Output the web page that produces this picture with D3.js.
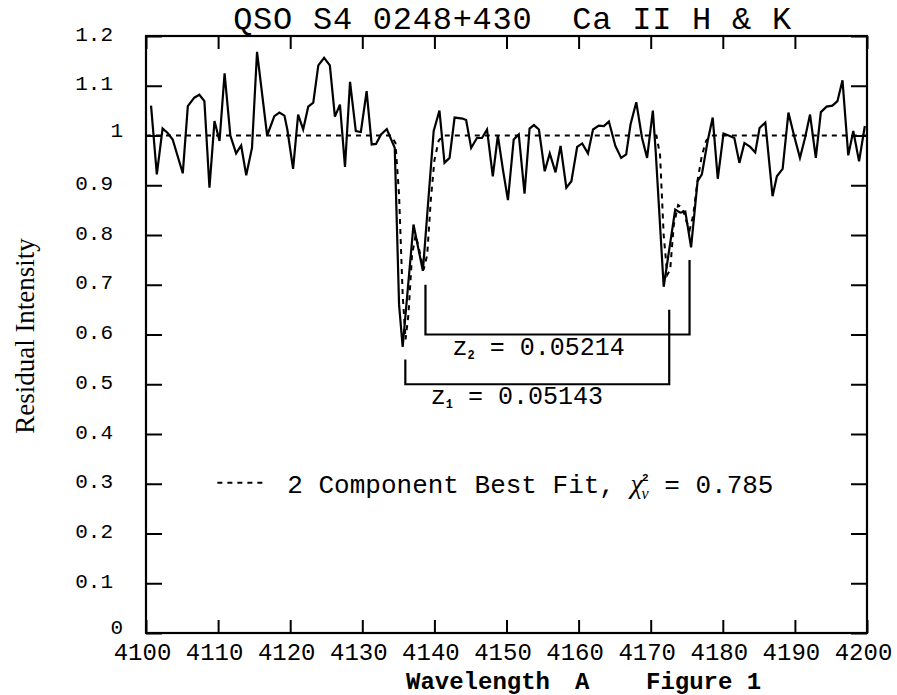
<!DOCTYPE html>
<html><head><meta charset="utf-8">
<script src="https://cdn.jsdelivr.net/npm/d3@7"></script>
<style>
html,body{margin:0;padding:0;background:#fff;}
svg{display:block;}
</style></head>
<body>
<svg id="chart" width="897" height="695"></svg>
<script>
// ---- data ----
const specWave = [4100.7,4101.5,4102.3,4103.0,4103.7,4105.1,4105.8,4106.7,4107.4,4108.1,4108.8,4109.5,4110.2,4110.9,4111.7,4112.5,4113.2,4113.9,4114.7,4115.4,4116.8,4117.8,4118.5,4119.2,4119.6,4120.4,4121.1,4121.8,4122.5,4123.2,4123.9,4124.7,4125.5,4126.2,4126.9,4127.6,4128.3,4129.1,4129.8,4130.6,4131.3,4131.9,4132.6,4133.4,4133.8,4134.5,4135.1,4135.6,4137.1,4138.4,4139.9,4140.7,4141.4,4142.1,4142.8,4143.9,4144.4,4145.1,4145.9,4146.6,4147.3,4148.1,4148.8,4149.5,4150.2,4151.0,4151.7,4152.5,4153.2,4153.8,4154.5,4155.3,4156.0,4156.8,4157.5,4158.3,4159.0,4159.8,4160.5,4161.3,4162.0,4162.8,4163.5,4164.2,4165.1,4165.9,4166.6,4167.2,4168.0,4168.8,4169.5,4170.3,4170.7,4171.8,4173.4,4174.1,4174.8,4175.6,4176.5,4177.1,4177.9,4178.6,4179.3,4180.1,4180.8,4181.6,4182.3,4183.0,4183.8,4184.5,4185.1,4185.9,4186.9,4187.5,4188.3,4189.1,4189.9,4190.7,4191.4,4192.1,4192.9,4193.6,4194.4,4195.2,4195.9,4196.6,4197.4,4198.1,4198.9,4199.7];
const specFlux = [1.060,0.922,1.014,1.005,0.992,0.924,1.059,1.076,1.082,1.069,0.895,1.029,0.989,1.125,1.000,0.964,0.980,0.920,0.975,1.168,1.000,1.039,1.046,1.040,1.012,0.933,1.042,1.012,1.058,1.066,1.141,1.156,1.141,1.038,1.062,0.937,1.108,1.009,1.007,1.089,0.982,0.983,1.002,1.013,0.999,0.975,0.660,0.575,0.821,0.728,1.009,1.050,0.945,0.955,1.036,1.034,1.031,0.975,0.995,0.995,1.012,0.918,1.000,0.932,0.870,0.992,1.002,0.883,1.014,1.021,1.012,0.928,0.964,0.926,0.979,0.895,0.908,0.977,0.984,0.964,1.012,1.020,1.019,1.028,0.979,0.955,0.962,1.022,1.067,0.995,0.955,1.050,0.966,0.696,0.851,0.845,0.847,0.775,0.908,0.922,0.989,1.036,0.913,1.004,1.000,0.995,0.945,0.985,0.977,0.966,1.015,1.026,0.878,0.918,0.933,1.046,0.999,0.955,0.995,1.042,0.955,1.047,1.058,1.060,1.069,1.111,0.960,1.009,0.948,1.019];

const fitWave = [4100,4134.0,4134.6,4135.1,4135.6,4136.0,4136.4,4136.9,4137.4,4137.9,4138.5,4139.0,4139.5,4140.0,4140.6,4141.3,4170.8,4171.3,4171.8,4172.3,4172.7,4173.2,4173.8,4174.4,4174.9,4175.4,4175.9,4176.5,4177.1,4177.7,4178.4,4200];
const fitFlux = [1.0,1.0,0.985,0.88,0.68,0.59,0.64,0.76,0.80,0.77,0.73,0.76,0.87,0.95,0.99,1.0,1.0,0.96,0.80,0.72,0.73,0.82,0.86,0.855,0.83,0.81,0.84,0.91,0.96,0.99,1.0,1.0];

const xTicks = [4100,4110,4120,4130,4140,4150,4160,4170,4180,4190,4200];
const yTicks = [0,0.1,0.2,0.3,0.4,0.5,0.6,0.7,0.8,0.9,1.0,1.1,1.2];
const yTickLabels = ["0","0.1","0.2","0.3","0.4","0.5","0.6","0.7","0.8","0.9","1","1.1","1.2"];

const restLines = [3933.66, 3968.47];      // Ca II K, H
const redshifts = [0.05143, 0.05214];      // z1, z2
const zLabelText = ["0.05143","0.05214"];

const titleText = "QSO S4 0248+430  Ca II H & K";
const yTitle = "Residual Intensity";
const chi2 = "0.785";

// ---- layout ----
const svg = d3.select("#chart");
const L = 146, R = 867, T = 36, B = 633;
const x = d3.scaleLinear().domain([4100,4200]).range([L,R]);
const y = d3.scaleLinear().domain([0,1.2]).range([B,T]);
const mono = "'Liberation Mono', 'Courier New', monospace";

// frame
svg.append("rect").attr("x",L).attr("y",T).attr("width",R-L).attr("height",B-T)
  .attr("fill","none").attr("stroke","#000").attr("stroke-width",2.2);

// ticks (inside)
const tickStyle = g => { g.select(".domain").remove(); g.selectAll("line").attr("stroke","#000").attr("stroke-width",2); g.selectAll("text").remove(); };
svg.append("g").attr("transform",`translate(0,${B})`).call(d3.axisBottom(x).tickValues(xTicks).tickSize(-13)).call(tickStyle);
svg.append("g").attr("transform",`translate(0,${T})`).call(d3.axisTop(x).tickValues(xTicks).tickSize(-13)).call(tickStyle);
svg.append("g").attr("transform",`translate(${L},0)`).call(d3.axisLeft(y).tickValues(yTicks).tickSize(-16)).call(tickStyle);
svg.append("g").attr("transform",`translate(${R},0)`).call(d3.axisRight(y).tickValues(yTicks).tickSize(-16)).call(tickStyle);

// tick labels
const xl = svg.append("g").attr("transform",`translate(-4,${B})`)
  .call(d3.axisBottom(x).tickValues(xTicks).tickSize(0).tickPadding(10).tickFormat(d3.format("d")));
xl.select(".domain").remove();
xl.selectAll("text").attr("font-family",mono).attr("font-size",24).attr("fill","#000").attr("dy","0.71em");

const yl = svg.append("g").attr("transform",`translate(${L},0)`)
  .call(d3.axisLeft(y).tickValues(yTicks).tickSize(0).tickPadding(33).tickFormat((d,i)=>yTickLabels[i]));
yl.select(".domain").remove();
yl.selectAll("text").attr("font-family",mono).attr("font-size",21).attr("fill","#000").attr("dy","0.19em")
  .filter((d,i)=>!yTickLabels[i].includes(".")).attr("x",-23).attr("dy","0.04em");

// continuum + fit (dashed)
const line = d3.line().x(d=>x(d[0])).y(d=>y(d[1]));
svg.append("path").datum(fitWave.map((w,i)=>[w,fitFlux[i]]))
  .attr("d",line).attr("fill","none").attr("stroke","#000").attr("stroke-width",2)
  .attr("stroke-dasharray","5,5");

// spectrum
svg.append("path").datum(specWave.map((w,i)=>[w,specFlux[i]]))
  .attr("d",line).attr("fill","none").attr("stroke","#000").attr("stroke-width",2.2)
  .attr("stroke-linejoin","miter");

// redshift brackets
const bars = [
  {z:redshifts[0], bar:0.50, tops:[0.55,0.65], lx:4139.5, ly:0.46, sub:"1", txt:zLabelText[0]},
  {z:redshifts[1], bar:0.60, tops:[0.70,0.75], lx:4142.5, ly:0.558, sub:"2", txt:zLabelText[1]}
];
bars.forEach(b=>{
  const xk = x(restLines[0]*(1+b.z)), xh = x(restLines[1]*(1+b.z));
  svg.append("path").attr("d",`M${xk},${y(b.tops[0])}V${y(b.bar)}H${xh}V${y(b.tops[1])}`)
    .attr("fill","none").attr("stroke","#000").attr("stroke-width",2.2);
  const t = svg.append("text").attr("x",x(b.lx)).attr("y",y(b.ly))
    .attr("font-family",mono).attr("font-size",25).attr("fill","#000");
  t.append("tspan").text("z");
  t.append("tspan").attr("font-size",12).attr("font-weight","bold").attr("dy",4).text(b.sub);
  t.append("tspan").attr("dy",-4).text(" = " + b.txt);
});

// legend
svg.append("line").attr("x1",x(4109.9)).attr("x2",x(4116.6)).attr("y1",y(0.302)).attr("y2",y(0.302))
  .attr("stroke","#000").attr("stroke-width",2).attr("stroke-dasharray","5,5");
const lg = svg.append("text").attr("x",x(4119.6)).attr("y",y(0.282))
  .attr("font-family",mono).attr("font-size",26).attr("fill","#000");
lg.append("tspan").text("2 Component Best Fit, ");
lg.append("tspan").attr("font-family","'Liberation Serif', serif").attr("font-style","italic").attr("font-size",28).text("χ");
lg.append("tspan").attr("font-size",11).attr("font-weight","bold").attr("dx",-1).attr("dy",-12).text("2");
lg.append("tspan").attr("font-family","'Liberation Serif', serif").attr("font-style","italic").attr("font-size",16).attr("dx",-7).attr("dy",18).text("ν");
lg.append("tspan").attr("dy",-6).text(" = " + chi2);

// title
svg.append("text").attr("x",(L+R)/2+6).attr("y",29).attr("text-anchor","middle")
  .attr("font-family",mono).attr("font-size",32).attr("letter-spacing",0.75).attr("fill","#000")
  .style("white-space","pre").text(titleText);

// x axis title
const xt = svg.append("text").attr("y",689).attr("font-family",mono).attr("font-size",24)
  .attr("font-weight","bold").attr("fill","#000");
xt.append("tspan").attr("x",406).text("Wavelength");
xt.append("tspan").attr("x",575).text("A");
xt.append("tspan").attr("x",646).text("Figure 1");

// y axis title
svg.append("text").attr("transform","translate(34,336) rotate(-90)").attr("text-anchor","middle")
  .attr("font-family","'Liberation Serif', 'Times New Roman', serif").attr("font-size",27).attr("fill","#000")
  .text(yTitle);
</script>
</body></html>
